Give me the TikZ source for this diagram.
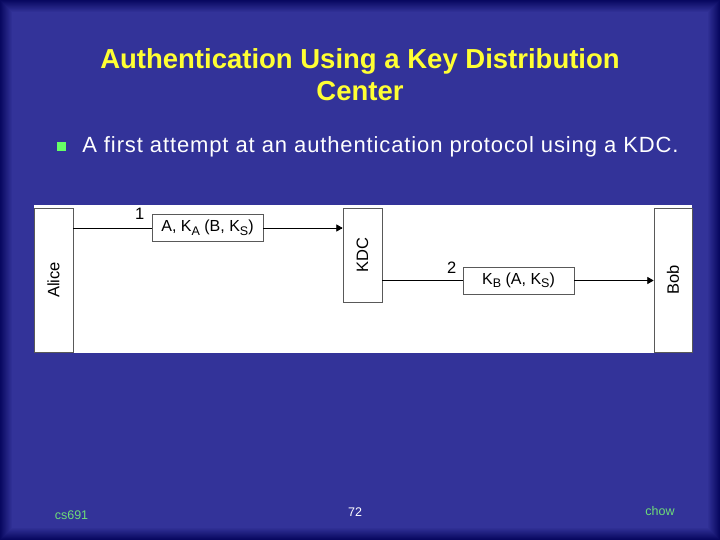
\documentclass[tikz,border=0pt]{standalone}
\usepackage{fontspec}
\setmainfont{Liberation Sans}
\newfontfamily\spacedfont[LetterSpace=4]{Liberation Sans}
\usetikzlibrary{
  positioning,
  arrows
}
\definecolor{slideblue}{RGB}{51,51,153}
\definecolor{slideedge}{RGB}{8,8,96}
\definecolor{titleyellow}{RGB}{255,255,51}
\definecolor{bulletgreen}{RGB}{102,255,102}
\definecolor{footgreen}{RGB}{110,220,120}
\newcommand{\keyof}[1]{K\raisebox{-3.5pt}{\fontsize{12.5}{14}\selectfont #1}}

\begin{document}
\begin{tikzpicture}[
    x=1pt, y=-1pt, >=triangle 60, line width=0.7pt,
    party/.style={
      draw=black!65,
      fill=white,
      inner sep=0pt,
      minimum width=39pt,
      font=\fontsize{16.5}{20}\selectfont
    },
    msg/.style={
      draw=black!65,
      fill=white,
      inner sep=0pt,
      minimum width=111pt,
      minimum height=27pt,
      font=\fontsize{16}{19}\selectfont
    },
    msgnum/.style={inner sep=0pt, font=\fontsize{16.5}{20}\selectfont},
    footer/.style={inner sep=0pt, font=\fontsize{12.5}{15}\selectfont}
  ]
  \useasboundingbox (0,0) rectangle (720,540);

  % slide background, darker towards the edges
  \foreach \i in {0,...,12}{
    \pgfmathtruncatemacro{\mix}{100*\i/12}
    \fill[slideblue!\mix!slideedge] (\i,\i) rectangle (720-\i,540-\i);
  }

  \node[titleyellow, align=center, inner sep=0pt,
        font=\bfseries\fontsize{27.5}{32.5}\selectfont]
    (title) at (360,74.5) {Authentication Using a Key Distribution\\Center};

  \node[fill=bulletgreen, inner sep=0pt, minimum size=9pt] (bullet) at (61.5,147) {};
  \node[white, anchor=west, inner sep=0pt, font=\spacedfont\fontsize{22}{26}\selectfont]
    (point) at (82,146.5) {A first attempt at an authentication protocol using a KDC.};

  \begin{scope}
    \fill[white] (34,205) rectangle (692,353);

    \node[party, minimum height=144pt] (alice) at (53.5,280) {\rotatebox{90}{Alice}};
    \node[party, minimum height=94pt] (kdc) at (362.5,255) {\rotatebox{90}{KDC}};
    \node[party, minimum height=144pt, minimum width=38pt] (bob) at (673,280) {\rotatebox{90}{Bob}};

    \node[msg] (msgone) at (207.5,228) {A, \keyof{A} (B, \keyof{S})};
    \node[msg] (msgtwo) at (518.5,280.5) {\keyof{B} (A, \keyof{S})};

    \node[msgnum, above left=8pt and 7pt of msgone.west] (numone) {1};
    \node[msgnum, above left=6.5pt and 6pt of msgtwo.west] (numtwo) {2};

    \draw (alice.east |- msgone) -- (msgone);
    \draw[->] (msgone) -- (kdc.west |- msgone);
    \draw (kdc.east |- msgtwo) -- (msgtwo);
    \draw[->] (msgtwo) -- (bob.west |- msgtwo);
  \end{scope}

  \node[footer, footgreen] (course) at (71.5,515) {cs691};
  \node[footer, white] (page) at (355,512.5) {72};
  \node[footer, footgreen] (author) at (660,511) {chow};
\end{tikzpicture}
\end{document}
